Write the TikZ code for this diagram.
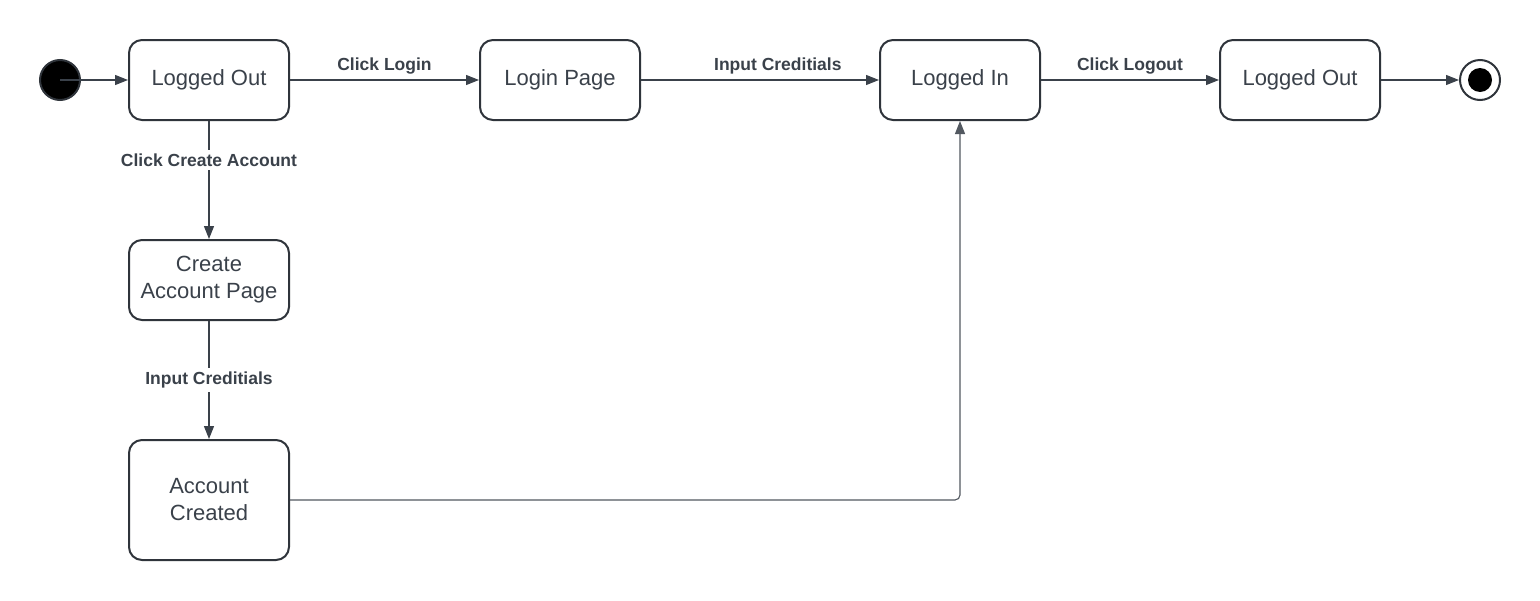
\documentclass[tikz,border=0pt]{standalone}
\usepackage{fontspec}
\setmainfont{Liberation Sans}
\usetikzlibrary{arrows.meta}
\definecolor{ink}{HTML}{2F343B}
\definecolor{wire}{HTML}{3A414A}
\definecolor{txt}{HTML}{3A414A}
\tikzset{
  state/.style={draw=ink, line width=2pt, rounded corners=13pt, minimum width=160pt, minimum height=80pt, align=center, text=txt, font=\fontsize{22}{27}\selectfont, inner sep=0pt, fill=white},
  tall/.style={minimum height=120pt},
  conn/.style={draw=wire, line width=1.1pt, -{Triangle[length=13pt,width=10pt]}},
  lbl/.style={font=\bfseries\fontsize{17.5}{20}\selectfont, text=txt, inner sep=5.5pt},
  onlbl/.style={lbl, fill=white, inner sep=4pt}
}
\begin{document}
\begin{tikzpicture}[x=1pt,y=-1pt]
\useasboundingbox (0,0) rectangle (1540,600);
\node[circle, fill=black, draw=ink, line width=2pt, minimum size=40pt, inner sep=0pt] (start) at (60,80) {};
\node[state] (lo1) at (209,80) {Logged Out};
\node[state] (lp) at (560,80) {Login Page};
\node[state] (li) at (960,80) {Logged In};
\node[state] (lo2) at (1300,80) {Logged Out};
\node[circle, draw=ink, line width=2pt, fill=white, minimum size=40pt, inner sep=0pt] (end) at (1480,80) {};
\node[circle, fill=black, minimum size=24pt, inner sep=0pt] (endin) at (1480,80) {};
\node[state] (cap) at (209,280) {Create\\Account Page};
\node[state, tall] (ac) at (209,500) {Account\\Created};

\draw[conn] (start.center) -- (lo1.west);
\draw[conn] (lo1.east) -- node[lbl, above] {Click Login} (lp.west);
\draw[conn] (lp.east) -- node[lbl, above, pos=0.575] {Input Creditials} (li.west);
\draw[conn] (li.east) -- node[lbl, above] {Click Logout} (lo2.west);
\draw[conn] (lo2.east) -- (end.west);
\draw[conn] (lo1.south) -- node[onlbl, pos=0.33] {Click Create Account} (cap.north);
\draw[conn] (cap.south) -- node[onlbl, pos=0.5] {Input Creditials} (ac.north);
\draw[conn, draw=wire!88, rounded corners=5pt] (ac.east) -| (li.south);
\end{tikzpicture}
\end{document}
